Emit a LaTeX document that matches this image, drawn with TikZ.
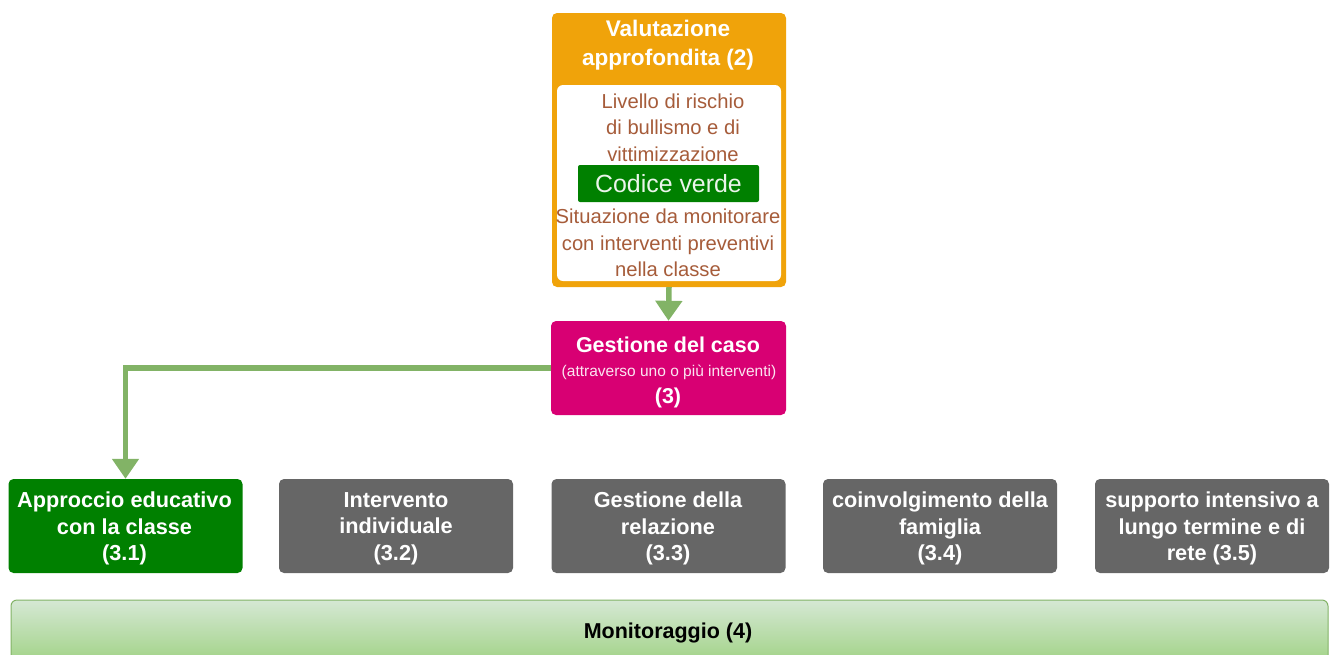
\documentclass[tikz,border=0pt]{standalone}
\usepackage{fontspec}
\setmainfont{Liberation Sans}
\usetikzlibrary{arrows.meta}
\definecolor{orng}{RGB}{240,163,10}
\definecolor{brwn}{RGB}{166,92,58}
\definecolor{dgreen}{RGB}{0,128,0}
\definecolor{mgnt}{RGB}{216,0,115}
\definecolor{dgray}{RGB}{102,102,102}
\definecolor{agreen}{RGB}{130,179,102}
\definecolor{mtop}{RGB}{213,232,212}
\definecolor{mbot}{RGB}{155,208,125}
\tikzset{
  box/.style={rectangle, rounded corners=5pt, inner sep=0pt, text=white, align=center},
  leaf/.style={box, minimum width=234pt, minimum height=94pt},
  leaftext/.style={text=white, align=center, inner sep=0pt,
    font=\bfseries\fontsize{21.7}{26.5}\selectfont},
  brtext/.style={text=brwn, align=center, inner sep=0pt, font=\fontsize{20.2}{26.5}\selectfont},
  arr/.style={draw=agreen, line width=5.5pt, -{Triangle[width=26pt,length=20pt]}},
}
\begin{document}
\begin{tikzpicture}[x=1pt,y=-1pt]
\useasboundingbox (0,0) rectangle (1334,654);
% Valutazione approfondita
\node[box, fill=orng, minimum width=234pt, minimum height=274pt] (val) at (669,150) {};
\node[text=white, align=center, inner sep=0pt, font=\bfseries\fontsize{22.6}{29}\selectfont] (valt) at (668,45.5) {Valutazione\\approfondita (2)};
\node[rectangle, rounded corners=6pt, fill=white, minimum width=224pt, minimum height=196pt, inner sep=0pt] (inner) at (669,183) {};
\node[brtext] (liv) at (673,127.5) {Livello di rischio\\di bullismo e di\\vittimizzazione};
\node[box, rounded corners=2pt, fill=dgreen, minimum width=181pt, minimum height=37pt, text=white!92!dgreen, font=\fontsize{24.9}{28}\selectfont] (cod) at (668.5,183.5) {Codice verde};
\node[brtext] (sit) at (668,243) {Situazione da monitorare\\con interventi preventivi\\nella classe};
% Gestione del caso
\node[box, fill=mgnt, minimum width=235pt, minimum height=94pt] (ges) at (668.5,368) {};
\node[text=white, inner sep=0pt, font=\bfseries\fontsize{21.5}{24}\selectfont] (gest1) at (668,344.5) {Gestione del caso};
\node[text=white!90!mgnt, inner sep=0pt, font=\fontsize{15.5}{18}\selectfont] (gest2) at (669,372) {(attraverso uno o più interventi)};
\node[text=white, inner sep=0pt, font=\bfseries\fontsize{21.5}{24}\selectfont] (gest3) at (668,397.5) {(3)};
% Leaf boxes
\node[leaf, fill=dgreen] (app) at (125.5,526) {};
\node[leaf, fill=dgray] (ind) at (396,526) {};
\node[leaf, fill=dgray] (rel) at (668.5,526) {};
\node[leaf, fill=dgray] (fam) at (940,526) {};
\node[leaf, fill=dgray] (sup) at (1212,526) {};
\node[leaftext] (appt) at (124.5,528.5) {Approccio educativo\\con la classe\\(3.1)};
\node[leaftext] (indt) at (396,528.5) {Intervento\\individuale\\(3.2)};
\node[leaftext] (relt) at (668,528.5) {Gestione della\\relazione\\(3.3)};
\node[leaftext] (famt) at (940,528.5) {coinvolgimento della\\famiglia\\(3.4)};
\node[leaftext] (supt) at (1212,528.5) {supporto intensivo a\\lungo termine e di\\rete (3.5)};
% Monitoraggio
\node[rectangle, rounded corners=6pt, draw=agreen, line width=1pt, top color=mtop, bottom color=mbot, minimum width=1317pt, minimum height=70pt, inner sep=0pt, anchor=north] (mon) at (669.5,599.5) {};
\node[text=black, inner sep=0pt, font=\bfseries\fontsize{21.5}{22}\selectfont] (mont) at (668,633) {Monitoraggio (4)};
% Connectors
\draw[arr] (val.south) -- (ges.north);
\draw[arr] (ges.west) -| (app.north);
\end{tikzpicture}
\end{document}
